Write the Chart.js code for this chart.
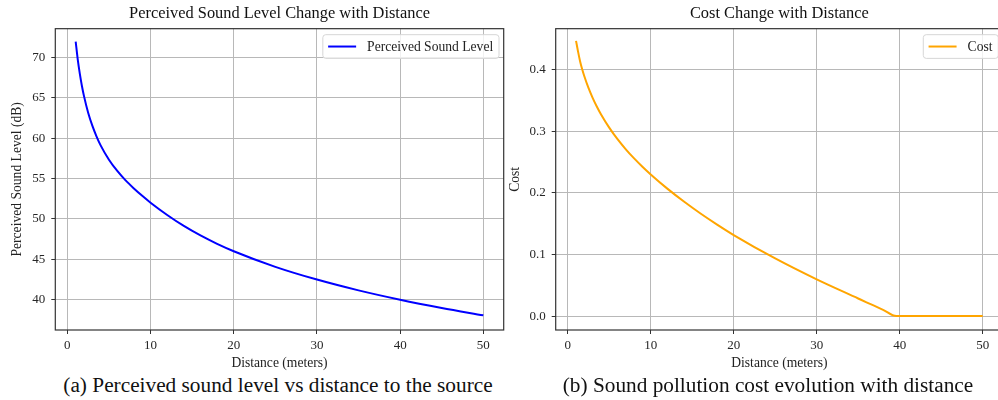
<!DOCTYPE html>
<html>
<head>
<meta charset="utf-8">
<script src="https://cdn.jsdelivr.net/npm/chart.js@4.4.1/dist/chart.umd.min.js"></script>
<style>
  html, body { margin: 0; padding: 0; background: #fff; }
  body { width: 998px; height: 400px; overflow: hidden; position: relative; font-family: "Liberation Serif", "Times New Roman", serif; }
  .cv { position: absolute; top: 0; }
  .cap { position: absolute; top: 373px; font-size: 21.3px; line-height: 24px; color: #111; white-space: nowrap; transform: translateX(-50%); }
</style>
</head>
<body>
<canvas id="chartA" class="cv" style="left:0px" width="505" height="372"></canvas>
<canvas id="chartB" class="cv" style="left:500px" width="510" height="372"></canvas>
<div class="cap" style="left:278px">(a) Perceived sound level vs distance to the source</div>
<div class="cap" style="left:768px">(b) Sound pollution cost evolution with distance</div>
<script>
// ---- data ----
const distSound = [1, 1.25, 1.5, 1.75, 2, 2.5, 3, 3.5, 4, 5, 6, 7, 8, 9, 10, 12, 14, 16, 18, 20, 25, 30, 35, 40, 45, 50];
const levelSound = [72.00, 69.76, 67.98, 66.49, 65.23, 63.17, 61.56, 60.24, 59.12, 57.34, 55.94, 54.77, 53.77, 52.85, 52.00, 50.48, 49.12, 47.94, 46.90, 45.98, 44.04, 42.46, 41.12, 39.96, 38.94, 38.02];

const distCost = [1, 1.25, 1.5, 1.75, 2, 2.5, 3, 3.5, 4, 5, 6, 7, 8, 9, 10, 12, 14, 16, 18, 20, 25, 30, 35, 36, 38, 39.6, 42, 46, 50];
const costValues = [0.447, 0.429, 0.413, 0.4004, 0.3894, 0.3704, 0.3544, 0.3404, 0.3279, 0.3061, 0.2873, 0.2708, 0.256, 0.2425, 0.230, 0.207, 0.186, 0.1666, 0.1486, 0.1316, 0.0936, 0.0596, 0.0286, 0.0224, 0.0102, 0.0, 0.0, 0.0, 0.0];

const xTicks = [0, 10, 20, 30, 40, 50];
const soundTicks = [40, 45, 50, 55, 60, 65, 70];
const costTicks = [0.0, 0.1, 0.2, 0.3, 0.4];
const costTickLabels = ['0.0', '0.1', '0.2', '0.3', '0.4'];

Chart.defaults.font.family = '"Liberation Serif", "Times New Roman", serif';
Chart.defaults.color = '#222';

const FONT_TICK = 13;
const FONT_LABEL = 13.6;
const GRID = '#b8b8b8';

const frameLegend = {
  id: 'frameLegend',
  afterDraw(chart) {
    const {ctx, chartArea: a} = chart;
    ctx.save();
    ctx.strokeStyle = '#333';
    ctx.lineWidth = 1.2;
    ctx.strokeRect(a.left, a.top, a.right - a.left, a.bottom - a.top);
    // legend
    const ds = chart.data.datasets[0];
    ctx.font = FONT_LABEL + 'px "Liberation Serif", "Times New Roman", serif';
    const tw = ctx.measureText(ds.label).width;
    const boxR = a.right - 4.7;
    const boxW = 5.3 + 28 + 11 + tw + 5.8;
    const boxL = boxR - boxW;
    const boxT = a.top + 6;
    const boxH = 23.7;
    const r = 3;
    ctx.beginPath();
    ctx.moveTo(boxL + r, boxT);
    ctx.lineTo(boxR - r, boxT);
    ctx.quadraticCurveTo(boxR, boxT, boxR, boxT + r);
    ctx.lineTo(boxR, boxT + boxH - r);
    ctx.quadraticCurveTo(boxR, boxT + boxH, boxR - r, boxT + boxH);
    ctx.lineTo(boxL + r, boxT + boxH);
    ctx.quadraticCurveTo(boxL, boxT + boxH, boxL, boxT + boxH - r);
    ctx.lineTo(boxL, boxT + r);
    ctx.quadraticCurveTo(boxL, boxT, boxL + r, boxT);
    ctx.closePath();
    ctx.fillStyle = 'rgba(255,255,255,0.8)';
    ctx.fill();
    ctx.strokeStyle = '#d6d6d6';
    ctx.lineWidth = 1;
    ctx.stroke();
    const cy = boxT + boxH / 2;
    ctx.beginPath();
    ctx.moveTo(boxL + 5.3, cy);
    ctx.lineTo(boxL + 5.3 + 28, cy);
    ctx.strokeStyle = ds.borderColor;
    ctx.lineWidth = 2;
    ctx.stroke();
    ctx.fillStyle = '#222';
    ctx.textBaseline = 'middle';
    ctx.textAlign = 'left';
    ctx.fillText(ds.label, boxL + 5.3 + 28 + 11, cy + 0.5);
    ctx.restore();
  }
};

function makeChart(id, cfg) {
  return new Chart(document.getElementById(id), {
    type: 'line',
    data: {
      datasets: [{
        label: cfg.label,
        data: cfg.xs.map((x, i) => ({x: x, y: cfg.ys[i]})),
        borderColor: cfg.color,
        backgroundColor: cfg.color,
        borderWidth: 2,
        pointRadius: 0,
        fill: false,
        cubicInterpolationMode: 'monotone'
      }]
    },
    options: {
      responsive: false,
      animation: false,
      events: [],
      layout: { padding: { left: 0, right: cfg.padRight, top: 0, bottom: 0 } },
      plugins: {
        legend: { display: false },
        tooltip: { enabled: false },
        title: {
          display: true,
          text: cfg.title,
          fullSize: false,
          color: '#111',
          font: { size: 16.4, weight: 'normal' },
          padding: { top: 4, bottom: 5 }
        }
      },
      scales: {
        x: {
          type: 'linear',
          min: -1.45,
          max: 52.45,
          afterBuildTicks: (s) => { s.ticks = xTicks.map(v => ({value: v})); },
          afterFit: (s) => { s.height = 42; },
          ticks: { font: { size: FONT_TICK }, color: '#262626', padding: 4, maxRotation: 0, callback: (v) => String(v) },
          grid: { color: GRID, lineWidth: 1, tickLength: 4, tickColor: '#333', tickWidth: 1 },
          border: { display: false },
          title: { display: true, text: 'Distance (meters)', color: '#222', font: { size: FONT_LABEL }, padding: { top: 0, bottom: 0 } }
        },
        y: {
          type: 'linear',
          min: cfg.ymin,
          max: cfg.ymax,
          afterBuildTicks: (s) => { s.ticks = cfg.yTicks.map(v => ({value: v})); },
          afterFit: (s) => { s.width = cfg.yWidth; },
          ticks: { font: { size: FONT_TICK }, color: '#262626', padding: 6, callback: cfg.yFmt },
          grid: { color: GRID, lineWidth: 1, tickLength: 4, tickColor: '#333', tickWidth: 1 },
          border: { display: false },
          title: { display: true, text: cfg.yTitle, color: '#222', font: { size: FONT_LABEL }, padding: { top: cfg.yTitlePad, bottom: 0 } }
        }
      }
    },
    plugins: [frameLegend]
  });
}

makeChart('chartA', {
  label: 'Perceived Sound Level',
  xs: distSound, ys: levelSound, color: '#0000ff',
  title: 'Perceived Sound Level Change with Distance',
  ymin: 36.2, ymax: 73.6,
  yTicks: soundTicks,
  yFmt: (v) => String(v),
  yTitle: 'Perceived Sound Level (dB)', yTitlePad: 9,
  yWidth: 55.3, padRight: 1.3
});

makeChart('chartB', {
  label: 'Cost',
  xs: distCost, ys: costValues, color: '#ffa500',
  title: 'Cost Change with Distance',
  ymin: -0.0226, ymax: 0.4667,
  yTicks: costTicks,
  yFmt: (v) => { const i = costTicks.findIndex(t => Math.abs(t - v) < 1e-9); return i >= 0 ? costTickLabels[i] : ''; },
  yTitle: 'Cost', yTitlePad: 7,
  yWidth: 55.7, padRight: 7
});
</script>
</body>
</html>
